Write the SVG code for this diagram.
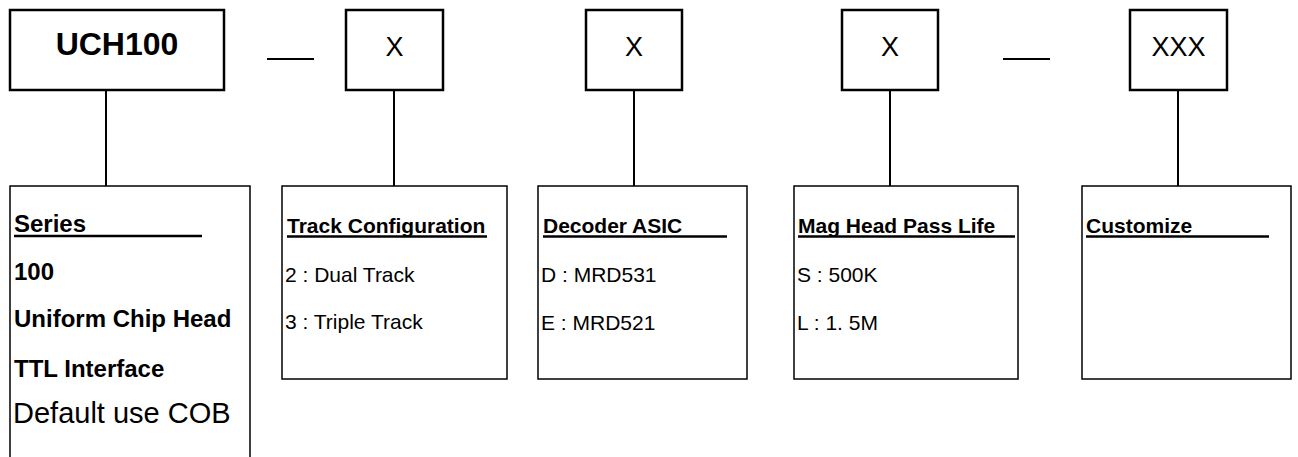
<svg xmlns="http://www.w3.org/2000/svg" width="1298" height="457" viewBox="0 0 1298 457">
<style>
.top{fill:#fff;stroke:#000;stroke-width:2.5}
.box{fill:#fff;stroke:#000;stroke-width:1.5}
.ln{stroke:#000;stroke-width:2;fill:none}
.ul{stroke:#000;stroke-width:2.5}
text{font-family:"Liberation Sans",Arial,sans-serif;fill:#000}
.big{font-size:32px;font-weight:bold}
.x{font-size:27px}
.h{font-size:21px;font-weight:bold}
.t{font-size:21px}
.s24{font-size:24px;font-weight:bold}
.s29{font-size:29px}
</style>
<rect width="1298" height="457" fill="#fff"/>
<g id="connectors">
<line class="ln" x1="106" y1="90" x2="106" y2="187"/>
<line class="ln" x1="394" y1="90" x2="394" y2="187"/>
<line class="ln" x1="634" y1="90" x2="634" y2="187"/>
<line class="ln" x1="890" y1="90" x2="890" y2="187"/>
<line class="ln" x1="1178" y1="90" x2="1178" y2="187"/>
</g>
<g id="dash1"><line class="ln" x1="267" y1="59" x2="314" y2="59"/></g>
<g id="dash2"><line class="ln" x1="1003" y1="59" x2="1050" y2="59"/></g>
<g id="n-uch100">
<rect class="top" x="10" y="10" width="214" height="80"/>
<text class="big" x="117" y="55" text-anchor="middle">UCH100</text>
</g>
<g id="n-x1">
<rect class="top" x="346" y="10" width="97" height="80"/>
<text class="x" x="394.5" y="56" text-anchor="middle">X</text>
</g>
<g id="n-x2">
<rect class="top" x="586" y="10" width="96" height="80"/>
<text class="x" x="634" y="56" text-anchor="middle">X</text>
</g>
<g id="n-x3">
<rect class="top" x="842" y="10" width="96" height="80"/>
<text class="x" x="890" y="56" text-anchor="middle">X</text>
</g>
<g id="n-xxx">
<rect class="top" x="1130" y="10" width="97" height="80"/>
<text class="x" x="1178.5" y="56" text-anchor="middle">XXX</text>
</g>
<g id="n-series">
<path class="box" d="M10,460 V186 H250 V460"/>
<text class="s24" x="14" y="232">Series</text>
<line class="ul" x1="14" y1="236" x2="202" y2="236"/>
<text class="s24" x="14" y="280">100</text>
<text class="s24" x="14" y="327">Uniform Chip Head</text>
<text class="s24" x="14" y="377">TTL Interface</text>
<text class="s29" x="13" y="423">Default use COB</text>
</g>
<g id="n-track">
<rect class="box" x="282" y="186" width="225" height="193"/>
<text class="h" x="287" y="233">Track Configuration</text>
<line class="ul" x1="287" y1="236.5" x2="487" y2="236.5"/>
<text class="t" x="285" y="282">2 : Dual Track</text>
<text class="t" x="285" y="329">3 : Triple Track</text>
</g>
<g id="n-decoder">
<rect class="box" x="538" y="186" width="209" height="193"/>
<text class="h" x="543" y="233">Decoder ASIC</text>
<line class="ul" x1="543" y1="236.5" x2="727" y2="236.5"/>
<text class="t" x="541" y="282">D : MRD531</text>
<text class="t" x="541" y="330">E : MRD521</text>
</g>
<g id="n-mag">
<rect class="box" x="794" y="186" width="224" height="193"/>
<text class="h" x="798" y="233">Mag Head Pass Life</text>
<line class="ul" x1="798" y1="236.5" x2="1015" y2="236.5"/>
<text class="t" x="797" y="282">S : 500K</text>
<text class="t" x="797" y="330">L : 1. 5M</text>
</g>
<g id="n-custom">
<rect class="box" x="1082" y="186" width="209" height="193"/>
<text class="h" x="1086" y="233">Customize</text>
<line class="ul" x1="1086" y1="236.5" x2="1269" y2="236.5"/>
</g>
</svg>
